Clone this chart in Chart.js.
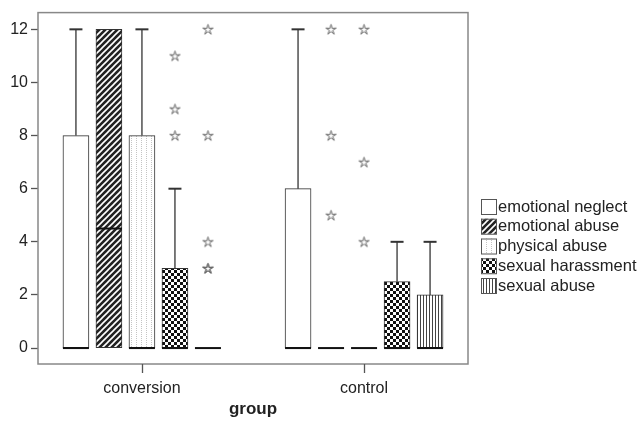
<!DOCTYPE html>
<html>
<head>
<meta charset="utf-8">
<script src="https://cdn.jsdelivr.net/npm/chart.js@4.4.0/dist/chart.umd.min.js"></script>
<style>
html, body { margin: 0; padding: 0; background: #fff; }
</style>
</head>
<body>
<canvas id="chart" width="639" height="423"></canvas>
<script>
var groups = ['conversion', 'control'];
var seriesNames = ['emotional neglect', 'emotional abuse', 'physical abuse', 'sexual harassment', 'sexual abuse'];
var yTicks = [0, 2, 4, 6, 8, 10, 12];

// [min, q1, median, q3, max] for conversion, control
var emotionalNeglect = [[0, 0, 0, 8, 12], [0, 0, 0, 6, 12]];
var emotionalAbuse = [[0, 0, 4.5, 12, 12], [0, 0, 0, 0, 0]];
var physicalAbuse = [[0, 0, 0, 8, 12], [0, 0, 0, 0, 0]];
var sexualHarassment = [[0, 0, 0, 3, 6], [0, 0, 0, 2.5, 4]];
var sexualAbuse = [[0, 0, 0, 0, 0], [0, 0, 0, 2, 4]];

// extreme values (stars) for conversion, control
var emotionalNeglectOut = [[], []];
var emotionalAbuseOut = [[], [12, 8, 5]];
var physicalAbuseOut = [[], [12, 7, 4]];
var sexualHarassmentOut = [[11, 9, 8], []];
var sexualAbuseOut = [[12, 8, 4, 3, 3], []];

var boxes = [emotionalNeglect, emotionalAbuse, physicalAbuse, sexualHarassment, sexualAbuse];
var extremes = [emotionalNeglectOut, emotionalAbuseOut, physicalAbuseOut, sexualHarassmentOut, sexualAbuseOut];

var spread = 0.1486;
var boxWidth = 26;

function makePattern(w, h, draw) {
    var c = document.createElement('canvas');
    c.width = w;
    c.height = h;
    var g = c.getContext('2d');
    g.fillStyle = '#fff';
    g.fillRect(0, 0, w, h);
    draw(g);
    return document.getElementById('chart').getContext('2d').createPattern(c, 'repeat');
}

var patterns = [
    '#fff',
    makePattern(6, 6, function (g) {
        g.fillStyle = '#222';
        g.fillRect(0, 0, 6, 6);
        g.strokeStyle = '#fff';
        g.lineWidth = 1.6;
        g.beginPath();
        g.moveTo(-1, 1); g.lineTo(1, -1);
        g.moveTo(-1, 7); g.lineTo(7, -1);
        g.moveTo(5, 7); g.lineTo(7, 5);
        g.stroke();
    }),
    makePattern(5, 2, function (g) {
        g.fillStyle = '#c4c4c4';
        g.fillRect(1, 0, 1, 1);
    }),
    makePattern(6, 6, function (g) {
        g.fillStyle = '#111';
        g.fillRect(0, 0, 3, 3);
        g.fillRect(3, 3, 3, 3);
    }),
    makePattern(3, 1, function (g) {
        g.fillStyle = '#444';
        g.fillRect(0, 0, 1, 1);
    })
];

function makeStar() {
    var c = document.createElement('canvas');
    c.width = 13;
    c.height = 13;
    var g = c.getContext('2d');
    g.strokeStyle = '#666';
    g.lineWidth = 1;
    g.beginPath();
    for (var k = 0; k < 10; k++) {
        var r = k % 2 === 0 ? 5.4 : 1.8;
        var a = -Math.PI / 2 + k * Math.PI / 5;
        var px = 6.5 + r * Math.cos(a), py = 6.9 + r * Math.sin(a);
        if (k === 0) g.moveTo(px, py); else g.lineTo(px, py);
    }
    g.closePath();
    g.stroke();
    return c;
}
var star = makeStar();

var datasets = [];
seriesNames.forEach(function (name, i) {
    datasets.push({
        type: 'bar',
        label: name,
        data: groups.map(function (g, gi) {
            return {x: gi + (i - 2) * spread, y: [boxes[i][gi][1], boxes[i][gi][3]]};
        }),
        backgroundColor: patterns[i],
        borderColor: '#333',
        borderWidth: 1,
        borderSkipped: false,
        barThickness: boxWidth,
        grouped: false
    });
});
seriesNames.forEach(function (name, i) {
    var pts = [];
    groups.forEach(function (g, gi) {
        extremes[i][gi].forEach(function (v) {
            pts.push({x: gi + (i - 2) * spread, y: v});
        });
    });
    if (pts.length) {
        datasets.push({
            type: 'scatter',
            label: name + ' extremes',
            data: pts,
            pointStyle: star,
            pointRadius: 6,
            showLine: false
        });
    }
});

var boxplotParts = {
    id: 'boxplotParts',
    afterDatasetsDraw: function (chart) {
        var ctx = chart.ctx;
        var xs = chart.scales.x, ys = chart.scales.y;
        ctx.save();
        boxes.forEach(function (series, i) {
            series.forEach(function (b, gi) {
                var cx = xs.getPixelForValue(gi + (i - 2) * spread);
                var half = boxWidth / 2;
                ctx.strokeStyle = '#333';
                if (b[4] > b[3]) {
                    ctx.lineWidth = 1.3;
                    ctx.beginPath();
                    ctx.moveTo(cx, ys.getPixelForValue(b[3]));
                    ctx.lineTo(cx, ys.getPixelForValue(b[4]));
                    ctx.stroke();
                    ctx.lineWidth = 2;
                    ctx.beginPath();
                    ctx.moveTo(cx - half / 2, ys.getPixelForValue(b[4]));
                    ctx.lineTo(cx + half / 2, ys.getPixelForValue(b[4]));
                    ctx.stroke();
                }
                ctx.strokeStyle = '#111';
                ctx.lineWidth = 2;
                ctx.beginPath();
                ctx.moveTo(cx - half, ys.getPixelForValue(b[2]));
                ctx.lineTo(cx + half, ys.getPixelForValue(b[2]));
                ctx.stroke();
            });
        });
        ctx.restore();
    },
    afterDraw: function (chart) {
        var ctx = chart.ctx, a = chart.chartArea, xs = chart.scales.x;
        ctx.save();
        ctx.strokeStyle = '#888';
        ctx.lineWidth = 1.5;
        ctx.strokeRect(a.left, a.top, a.right - a.left, a.bottom - a.top);
        // x tick marks below the frame
        ctx.strokeStyle = '#555';
        ctx.lineWidth = 1.3;
        xs.ticks.forEach(function (t) {
            var px = Math.round(xs.getPixelForValue(t.value)) + 0.5;
            ctx.beginPath();
            ctx.moveTo(px, a.bottom);
            ctx.lineTo(px, a.bottom + 9);
            ctx.stroke();
        });
        // legend
        ctx.font = '16.5px "Liberation Sans", Arial, sans-serif';
        ctx.textBaseline = 'middle';
        seriesNames.forEach(function (name, i) {
            var top = 199 + i * 19.75;
            ctx.fillStyle = patterns[i];
            ctx.fillRect(481, top, 15, 15);
            ctx.strokeStyle = '#555';
            ctx.lineWidth = 1;
            ctx.strokeRect(481.5, top + 0.5, 15, 15);
            ctx.fillStyle = '#222';
            ctx.fillText(name, 498, top + 8);
        });
        ctx.restore();
    }
};

new Chart(document.getElementById('chart'), {
    type: 'bar',
    data: {datasets: datasets},
    options: {
        responsive: false,
        animation: false,
        layout: {padding: {top: 7, right: 171, left: 0, bottom: 0}},
        plugins: {
            legend: {display: false},
            tooltip: {enabled: false}
        },
        scales: {
            x: {
                type: 'linear',
                min: -0.468,
                max: 1.468,
                offset: false,
                afterBuildTicks: function (scale) {
                    scale.ticks = groups.map(function (g, gi) { return {value: gi}; });
                },
                afterFit: function (scale) { scale.height = 59; },
                ticks: {
                    callback: function (v) { return groups[v]; },
                    font: {family: '"Liberation Sans", Arial, sans-serif', size: 16},
                    color: '#222',
                    padding: 7,
                    maxRotation: 0
                },
                grid: {display: false},
                border: {display: false},
                title: {
                    display: true,
                    text: 'group',
                    font: {family: '"Liberation Sans", Arial, sans-serif', size: 17, weight: 'bold'},
                    color: '#222',
                    padding: {top: 0, bottom: 3}
                }
            },
            y: {
                min: -0.6,
                max: 12.63,
                afterBuildTicks: function (scale) {
                    scale.ticks = yTicks.map(function (v) { return {value: v}; });
                },
                afterFit: function (scale) { scale.width = 38; },
                ticks: {
                    font: {family: '"Liberation Sans", Arial, sans-serif', size: 16},
                    color: '#222',
                    padding: 3
                },
                grid: {drawOnChartArea: false, tickLength: 7, tickColor: '#555', tickWidth: 1.3},
                border: {display: false}
            }
        }
    },
    plugins: [boxplotParts]
});
</script>
</body>
</html>
